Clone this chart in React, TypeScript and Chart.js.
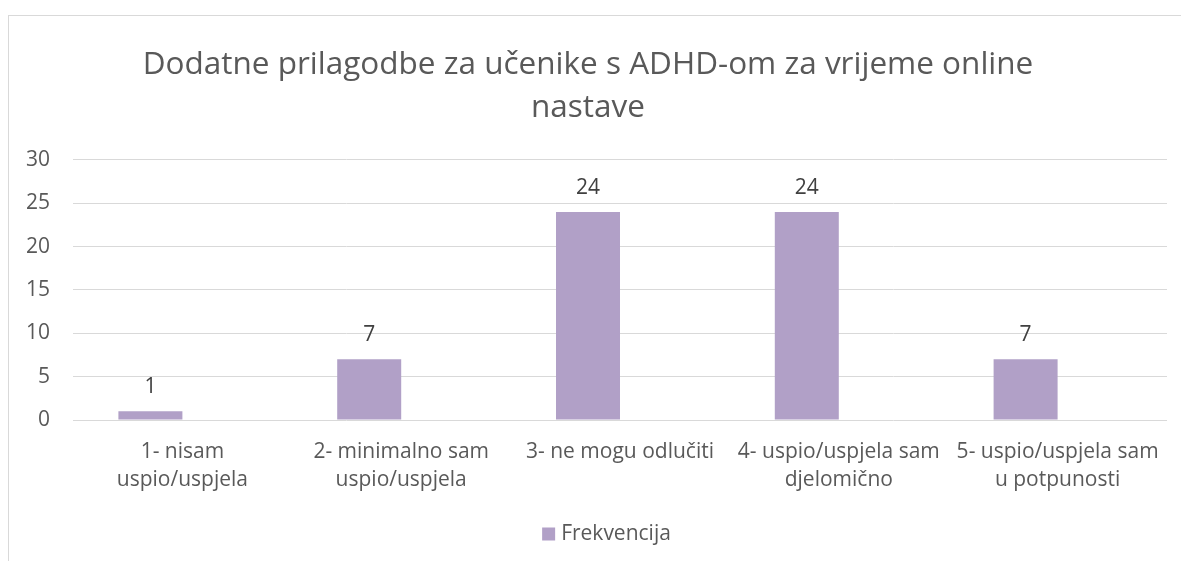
import React, { useEffect, useRef } from "react";
import { Chart, registerables } from "chart.js";

Chart.register(...registerables);

const titleLines = ["Dodatne prilagodbe za učenike s ADHD-om za vrijeme online", "nastave"];
const categories: string[][] = [
  ["1- nisam", "uspio/uspjela"],
  ["2- minimalno sam", "uspio/uspjela"],
  ["3- ne mogu odlučiti"],
  ["4- uspio/uspjela sam", "djelomično"],
  ["5- uspio/uspjela sam", "u potpunosti"],
];
const seriesName = "Frekvencija";
const frekvencija = [1, 7, 24, 24, 7];
const emptySeries = [null, null, null, null, null];
const yMin = 0;
const yMax = 30;
const yStep = 5;

const FONT = "'Open Sans', 'Noto Sans', sans-serif";
const TEXT = "#595959";
const BAR = "#B1A0C7";

const dataLabels = {
  id: "dataLabels",
  afterDatasetsDraw(chart: any) {
    const ctx = chart.ctx;
    const meta = chart.getDatasetMeta(0);
    const ds = chart.data.datasets[0];
    ctx.save();
    ctx.font = `21px ${FONT}`;
    ctx.fillStyle = "#404040";
    ctx.textAlign = "center";
    ctx.textBaseline = "alphabetic";
    meta.data.forEach((el: any, i: number) => {
      const v = ds.data[i];
      if (v == null) return;
      ctx.fillText(String(v), el.x, el.y - 18);
    });
    ctx.restore();
  },
};

const bottomLegend = {
  id: "bottomLegend",
  afterDraw(chart: any) {
    const ctx = chart.ctx;
    const ds = chart.data.datasets[0];
    ctx.save();
    ctx.font = `21px ${FONT}`;
    const tw = ctx.measureText(ds.label).width;
    const box = 13;
    const gap = 6;
    const total = box + gap + tw;
    const cx = chart.width / 2 + 11.5;
    const cy = chart.chartArea.bottom + 114;
    const x0 = cx - total / 2;
    ctx.fillStyle = ds.backgroundColor;
    ctx.fillRect(x0, cy - box / 2, box, box);
    ctx.fillStyle = TEXT;
    ctx.textAlign = "left";
    ctx.textBaseline = "middle";
    ctx.fillText(ds.label, x0 + box + gap, cy);
    ctx.restore();
  },
};

export default function App() {
  const ref = useRef<HTMLCanvasElement | null>(null);
  useEffect(() => {
    if (!ref.current) return;
    const chart = new Chart(ref.current, {
      type: "bar",
      data: {
        labels: categories,
        datasets: [
          {
            label: seriesName,
            data: frekvencija,
            backgroundColor: BAR,
            borderWidth: 0,
            barPercentage: 1,
            categoryPercentage: 0.585,
          },
          {
            label: "",
            data: emptySeries as any,
            backgroundColor: BAR,
            borderWidth: 0,
            barPercentage: 1,
            categoryPercentage: 0.585,
          },
        ],
      },
      options: {
        animation: false,
        responsive: true,
        maintainAspectRatio: false,
        layout: { padding: { left: 0, right: 14, top: 0, bottom: 46 } },
        plugins: {
          tooltip: { enabled: false },
          title: {
            display: true,
            text: titleLines,
            color: TEXT,
            font: { family: FONT, size: 31.5, weight: "normal", lineHeight: 1.365 },
            padding: { top: 28, bottom: 30 },
          },
          legend: { display: false },
        },
        scales: {
          x: {
            grid: { display: false },
            border: { display: false },
            ticks: {
              color: TEXT,
              font: { family: FONT, size: 21, lineHeight: 1.333 },
              padding: 10,
              maxRotation: 0,
              autoSkip: false,
            },
            afterFit: (scale: any) => {
              scale.height = 95;
            },
          },
          y: {
            min: yMin,
            max: yMax,
            border: { display: false },
            grid: { color: "#D9D9D9", lineWidth: 1, drawTicks: false },
            ticks: {
              stepSize: yStep,
              color: TEXT,
              font: { family: FONT, size: 21 },
              padding: 23,
            },
            afterFit: (scale: any) => {
              scale.width = 64;
            },
          },
        },
      },
      plugins: [dataLabels, bottomLegend],
    });
    return () => chart.destroy();
  }, []);

  return (
    <div
      style={{
        position: "fixed",
        left: 8,
        top: 15,
        width: 1300,
        height: 700,
        border: "1px solid #D9D9D9",
        background: "#fff",
      }}
    >
      <div style={{ position: "absolute", left: 0, top: 0, width: 1172, height: 545 }}>
        <canvas ref={ref} />
      </div>
    </div>
  );
}
